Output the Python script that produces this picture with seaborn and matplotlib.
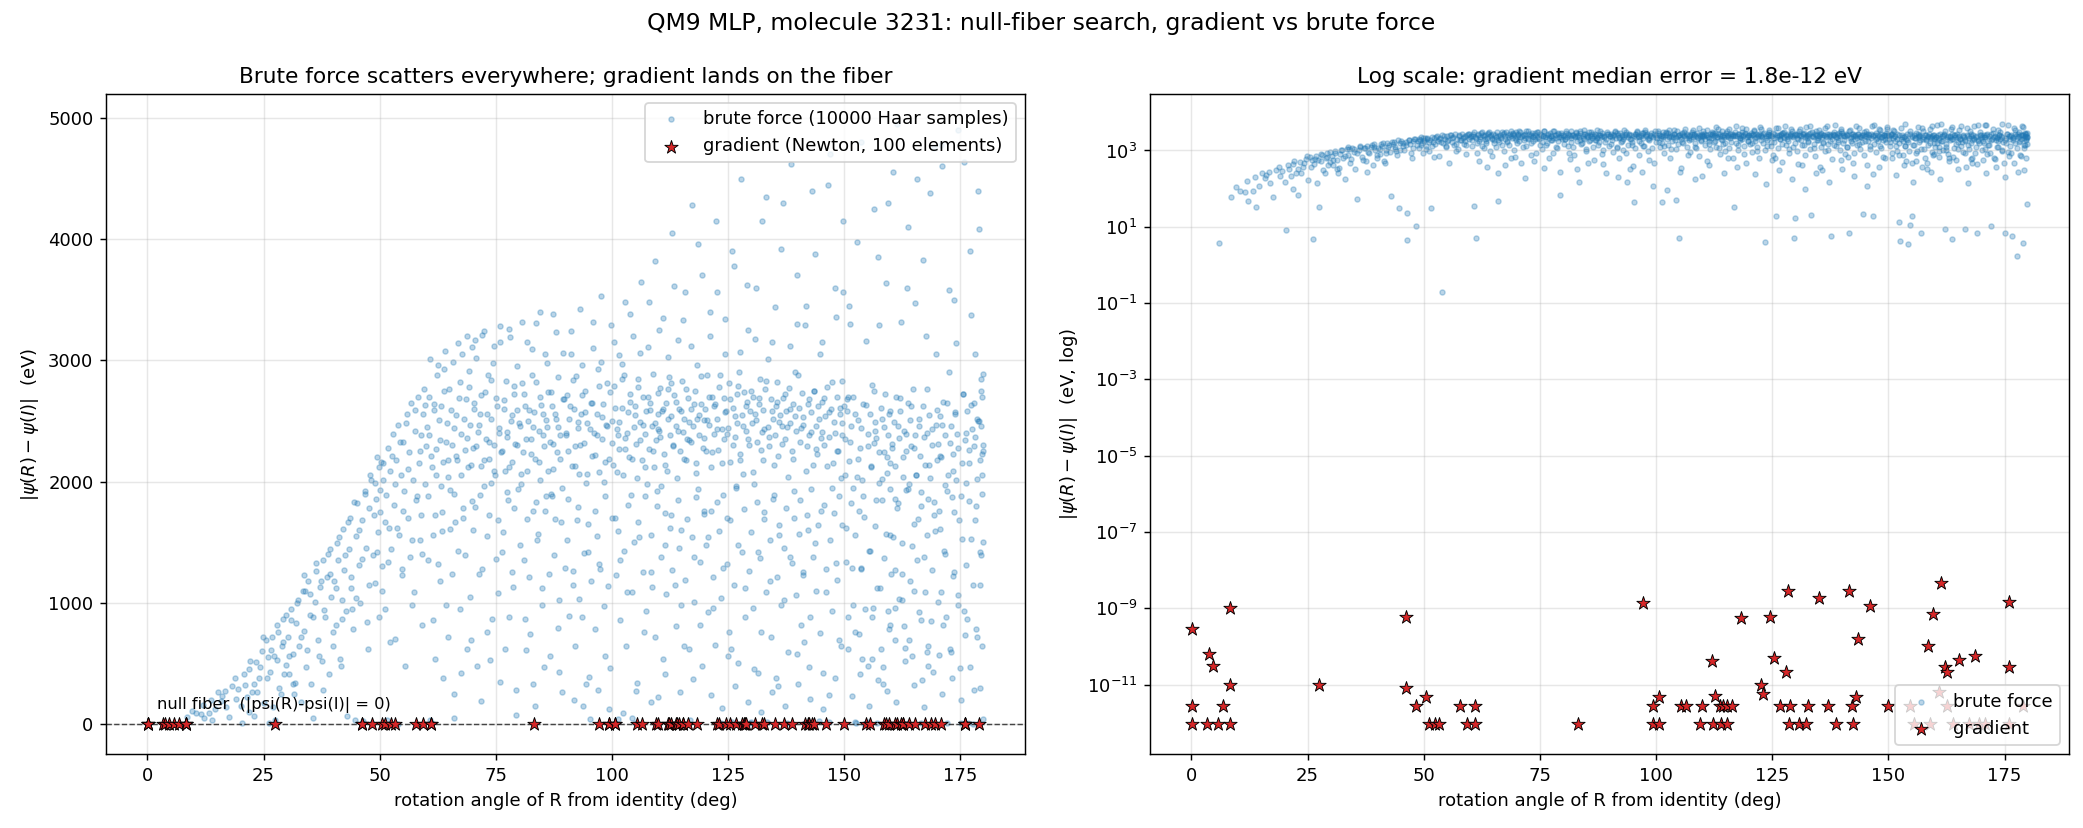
import numpy as np
import pandas as pd
import seaborn as sns
import matplotlib.pyplot as plt

# brute force: rotation angle (deg) and |psi(R)-psi(I)| (eV)
bf_angle = [
    5.9, 8.6, 9.6,
    10.5, 11.5, 11.9, 12.3, 13.3, 13.6, 13.9, 15.2, 16.1, 17.0, 18.2, 19.0,
    20.4, 21.1, 21.8, 22.5, 22.9, 23.4, 24.0, 24.6, 25.1, 25.5,
    26.2, 26.4, 26.9, 27.3, 27.5, 28.0, 28.4, 28.9, 29.3, 29.8,
    30.2, 30.5, 30.9, 31.3, 31.6, 32.0, 32.4, 32.7, 33.1, 33.5,
    33.8, 34.2, 34.6, 34.9, 35.3, 35.7, 36.0, 36.4, 36.8, 37.1,
    37.5, 37.9, 38.2, 38.6, 39.0, 39.3, 39.6, 39.9,
    40.2, 40.5, 40.8, 41.1, 41.5, 41.8, 42.1, 42.4, 42.7, 43.0,
    43.3, 43.6, 43.9, 44.2, 44.6, 44.9, 45.2, 45.5, 45.8, 46.1,
    46.4, 46.5, 46.8, 47.1, 47.4, 47.7, 48.0, 48.3, 48.6, 48.9,
    49.1, 49.3, 49.5, 49.7, 49.8, 49.9,
    50.1, 50.3, 50.6, 50.8, 51.1, 51.3, 51.5, 51.8, 52.0, 52.3,
    52.5, 52.8, 53.0, 53.3, 53.5, 53.9, 54.0, 54.2, 54.5, 54.7,
    55.0, 55.3, 55.5, 55.8, 56.0, 56.3, 56.6, 56.8, 57.1, 57.4,
    57.6, 57.9, 58.2, 58.4, 58.7, 59.0, 59.2, 59.5, 59.7, 59.9,
    60.1, 60.4, 60.6, 60.9, 61.1, 61.3, 61.5, 61.8, 62.1, 62.3,
    62.6, 62.9, 63.1, 63.4, 63.6, 63.9, 64.2, 64.4, 64.7, 64.9,
    65.2, 65.5, 65.7, 66.0, 66.1, 66.4, 66.7, 66.9, 67.2, 67.5,
    67.7, 68.0, 68.3, 68.5, 68.8, 69.0, 69.3, 69.5, 69.8, 69.9,
    70.1, 70.3, 70.6, 70.8, 71.1, 71.3, 71.6, 71.9, 72.1, 72.4,
    72.6, 72.9, 73.1, 73.4, 73.6, 73.9, 74.1, 74.4, 74.6, 74.9,
    75.1, 75.4, 75.6, 75.9, 76.2, 76.4, 76.7, 76.9, 77.2, 77.4,
    77.7, 77.9, 78.2, 78.4, 78.7, 78.9, 79.1, 79.3, 79.5, 79.8,
    80.1, 80.4, 80.6, 80.9, 81.1, 81.3, 81.6, 81.8, 82.0, 82.3,
    82.5, 82.8, 83.0, 83.2, 83.5, 83.7, 83.9, 84.2, 84.4, 84.6,
    84.9, 85.1, 85.3, 85.6, 85.8, 86.0, 86.3, 86.5, 86.7, 87.0,
    87.2, 87.4, 87.7, 87.9, 88.1, 88.4, 88.6, 88.8, 89.2, 89.6,
    90.1, 90.4, 90.6, 90.8, 91.1, 91.3, 91.5, 91.8, 92.0, 92.2,
    92.5, 92.7, 92.9, 93.2, 93.4, 93.6, 93.9, 94.1, 94.3, 94.6,
    94.8, 95.3, 95.5, 95.7, 96.0, 96.2, 96.4, 96.7, 96.9, 97.1,
    97.4, 97.6, 97.8, 98.1, 98.3, 98.5, 98.8, 99.0, 99.4, 99.7,
    100.1, 100.3, 100.5, 100.7, 101.0, 101.2, 101.4, 101.6, 101.8, 102.1,
    102.3, 102.5, 102.7, 102.9, 103.2, 103.4, 103.6, 103.8, 104.1, 104.3,
    104.5, 104.7, 104.9, 105.1, 105.3, 105.6, 105.8, 106.0, 106.2, 106.4,
    106.7, 106.9, 107.1, 107.3, 107.5, 107.8, 108.0, 108.2, 108.4, 108.6,
    108.9, 109.1, 109.3, 109.5, 109.7, 109.8, 109.9, 110.0, 101.3, 105.0,
    110.2, 110.4, 110.6, 110.8, 111.0, 111.2, 111.4, 111.6, 111.8, 112.0,
    112.2, 112.4, 112.6, 112.8, 113.0, 113.2, 113.4, 113.6, 113.8, 114.0,
    114.2, 114.4, 114.6, 114.8, 115.0, 115.2, 115.4, 115.6, 115.8, 116.0,
    116.2, 116.4, 116.6, 116.8, 117.0, 117.2, 117.4, 117.6, 117.8, 118.0,
    118.2, 118.4, 118.6, 118.8, 119.0, 119.2, 119.4, 119.6, 119.8, 119.9,
    120.1, 120.3, 120.5, 120.7, 120.9, 121.1, 121.3, 121.5, 121.7, 121.9,
    122.1, 122.3, 122.5, 122.7, 122.9, 123.1, 123.4, 123.6, 123.8, 124.0,
    124.2, 124.4, 124.6, 124.8, 125.0, 125.2, 125.4, 125.6, 125.8, 126.0,
    126.2, 126.4, 126.6, 126.8, 127.0, 127.2, 127.4, 127.6, 127.8, 128.0,
    128.2, 128.4, 128.6, 128.8, 129.0, 129.2, 129.4, 129.7, 129.8, 130.0,
    130.2, 130.4, 130.6, 130.8, 131.0, 131.2, 131.4, 131.6, 131.8, 132.0,
    132.2, 132.4, 132.6, 132.8, 133.0, 133.2, 133.4, 133.6, 133.8, 134.0,
    134.2, 134.4, 134.6, 134.8, 135.0, 135.2, 135.4, 135.6, 135.8, 136.0,
    136.2, 136.4, 136.6, 136.8, 137.0, 137.2, 137.4, 137.6, 137.8, 138.0,
    138.2, 138.4, 138.6, 138.8, 139.0, 139.2, 139.4, 139.6, 139.8, 139.9,
    140.2, 140.4, 140.6, 140.8, 141.0, 141.2, 141.5, 141.7, 141.9, 142.1,
    142.3, 142.5, 142.7, 142.9, 143.1, 143.3, 143.5, 143.7, 143.9, 144.1,
    144.3, 144.5, 144.7, 144.9, 145.1, 145.3, 145.5, 145.7, 145.9, 146.1,
    146.3, 146.6, 146.8, 147.0, 147.2, 147.4, 147.6, 147.8, 148.0, 148.2,
    148.4, 148.6, 148.8, 149.0, 149.2, 149.4, 149.5, 149.6, 149.8, 149.9,
    150.2, 150.4, 150.6, 150.8, 151.0, 151.2, 151.4, 151.6, 151.8, 152.2,
    152.6, 152.8, 153.0, 153.2, 153.4, 153.6, 153.8, 154.0, 154.3, 154.6,
    155.0, 155.2, 155.4, 155.6, 155.8, 156.0, 156.2, 156.4, 156.6, 156.8,
    157.1, 157.3, 157.5, 157.7, 157.9, 158.1, 158.3, 158.5, 158.7, 158.9,
    159.1, 159.3, 159.5, 159.6, 159.7, 159.8, 159.9, 150.5, 153.5, 156.5,
    160.2, 160.4, 160.6, 160.8, 161.0, 161.2, 161.4, 161.6, 161.8, 162.0,
    162.3, 162.5, 162.7, 162.9, 163.1, 163.3, 163.5, 163.8, 164.0, 164.2,
    164.4, 164.6, 164.8, 165.0, 165.2, 165.4, 165.6, 165.8, 166.0, 166.2,
    166.6, 166.8, 167.0, 167.2, 167.4, 167.6, 167.8, 168.0, 168.2, 168.4,
    168.6, 168.8, 169.0, 169.3, 169.5, 169.7, 169.9, 160.9, 163.7, 167.9,
    170.1, 170.3, 170.5, 170.7, 170.9, 171.1, 171.3, 171.5, 171.7, 172.1,
    172.3, 172.5, 172.7, 172.9, 173.1, 173.3, 173.5, 173.7, 173.9, 174.1,
    174.3, 174.5, 174.7, 175.1, 175.3, 175.5, 175.7, 175.9, 176.1, 176.3,
    176.6, 176.8, 177.0, 177.2, 177.4, 177.6, 177.8, 178.0, 178.2, 178.4,
    178.6, 178.8, 179.0, 179.2, 179.4, 179.5, 179.6, 179.7, 179.8, 179.9,
]
bf_err = [
    3.8, 60, 110,
    89, 83, 158, 47, 87, 200, 33, 260, 230, 140, 310, 210,
    8, 320, 450, 260, 69, 510, 380, 600, 170, 690,
    4.8, 430, 720, 560, 33, 820, 300, 640, 870, 490,
    720, 410, 950, 580, 250, 830, 1020, 640, 180, 1100,
    770, 470, 1180, 900, 330, 52, 1010, 1260, 690, 1130,
    520, 1350, 880, 1210, 410, 1440, 1050, 760,
    1180, 820, 1490, 1350, 540, 1020, 1610, 1270, 930, 63,
    1440, 1700, 1120, 780, 32, 1550, 1820, 1310, 1000, 1680,
    23, 4.6, 1920, 1450, 620, 1780, 2050, 10.7, 1390, 1990,
    1160, 1860, 2200, 1580, 880, 2120,
    1750, 2160, 1300, 2010, 950, 1890, 31, 2280, 1620, 2090,
    1440, 2390, 1810, 700, 2180, 0.19, 2470, 1560, 2050, 1230,
    2330, 1920, 480, 2560, 1700, 2240, 1380, 2650, 2010, 1090,
    2420, 1850, 2700, 2150, 1520, 2380, 820, 2760, 1980, 2290,
    2450, 1880, 2700, 36, 2210, 5.1, 1560, 2590, 2050, 2880,
    1320, 2340, 2620, 1750, 2160, 2930, 980, 2480, 2040, 2760,
    1610, 2300, 2990, 1900, 47, 2550, 2180, 1430, 2820, 2390,
    3050, 1700, 2260, 2680, 620, 2120, 2910, 2470, 1840, 3110,
    2280, 2650, 1790, 3020, 2410, 1240, 2560, 2130, 3210, 1960,
    2740, 2350, 1550, 2880, 2190, 2520, 870, 2980, 2300, 2050,
    2690, 1680, 2440, 3150, 2240, 1420, 2600, 2090, 2830, 2370,
    1850, 3260, 2500, 2160, 1130, 2720, 2310, 70, 2590, 1940,
    2460, 1980, 2810, 2240, 1350, 2620, 3150, 2090, 2500, 740,
    2350, 2880, 1760, 2570, 2190, 3310, 1520, 2420, 2700, 2010,
    980, 2560, 2290, 3050, 1880, 2450, 2740, 1240, 2330, 2620,
    2100, 3380, 1690, 2520, 2240, 2860, 430, 2380, 1950, 2680,
    2380, 2710, 1860, 2520, 3240, 2130, 1150, 2600, 2290, 2870,
    1680, 2440, 2060, 3420, 2560, 880, 2320, 2750, 1990, 2480,
    1420, 44, 2650, 2210, 3100, 2400, 1760, 2560, 2930, 2080,
    1280, 3530, 2350, 2640, 2000, 560, 2470, 2810, 2190, 3290,
    2500, 2140, 2790, 1700, 2430, 44, 3040, 2270, 1350, 2610,
    2050, 2880, 3480, 2360, 1090, 2570, 2200, 2720, 1890, 50,
    3200, 2450, 2620, 2310, 2030, 2850, 1540, 2490, 3650, 2180,
    2700, 760, 2390, 2580, 1980, 3110, 2270, 2650, 1250, 2460,
    2890, 2120, 3820, 2340, 1800, 2560, 220, 2430, 2380, 5,
    2420, 2770, 1960, 2580, 3350, 2230, 1480, 2650, 2090, 2760,
    2860, 2380, 1720, 2540, 4050, 2290, 2710, 1150, 2460, 2030,
    3170, 2600, 2250, 1600, 2830, 2410, 640, 2520, 3560, 2180,
    2350, 2690, 2340, 34, 2600, 4280, 2460, 1380, 2750, 2150,
    2520, 2960, 1940, 2380, 820, 2640, 3700, 2280, 2510, 1760,
    2600, 2250, 2880, 1540, 2470, 3400, 2120, 2700, 960, 2390,
    2640, 4150, 1830, 2520, 2260, 2780, 4, 2430, 1290, 2690,
    2350, 3050, 2580, 1700, 2440, 2810, 2160, 620, 19, 2610,
    3780, 2370, 1950, 2720, 2480, 1480, 2900, 2230, 4500, 2550,
    2060, 2740, 1120, 2420, 2660, 3250, 2300, 5.2, 2580, 17,
    2480, 2700, 1980, 2560, 3600, 2330, 1420, 2640, 2850, 760,
    2410, 2180, 2590, 1750, 2760, 4350, 20, 2450, 2290, 1180,
    2680, 3150, 2520, 1890, 2380, 2620, 380, 2820, 2210, 1560,
    2550, 3920, 2460, 2690, 1020, 2350, 2580, 5.9, 2040, 2770,
    1380, 2480, 4620, 2250, 2640, 1700, 2900, 2420, 580, 3300,
    2610, 1850, 2440, 2730, 1230, 2530, 6.7, 3450, 2290, 1600,
    2680, 2380, 880, 2570, 4400, 2140, 2750, 1490, 2460, 2230,
    2620, 22, 3050, 1760, 2410, 2660, 420, 2300, 2540, 1090,
    2780, 19, 2370, 4700, 2600, 1950, 2150, 2490, 3600, 1330,
    2700, 2250, 690, 2560, 2030, 2830, 1640, 2380, 4150, 2620,
    2350, 1620, 2580, 880, 2170, 3300, 2460, 1290, 2700, 13,
    4.3, 2040, 2510, 1760, 2280, 4800, 540, 2640, 3.6, 11,
    19, 2390, 1430, 2560, 2130, 2800, 960, 2320, 2490, 1850,
    7, 3850, 2240, 1120, 2610, 2020, 330, 2450, 2720, 1570,
    2200, 4300, 2380, 780, 2560, 1940, 2150, 2680, 1280, 2420,
    2280, 1540, 2490, 960, 2130, 2700, 4950, 1820, 2360, 2580,
    9, 1240, 2040, 2420, 630, 2250, 3600, 4.8, 1980, 2510,
    2290, 1470, 2760, 1100, 2380, 2050, 4500, 1690, 2460, 2210,
    8.7, 360, 2620, 1380, 2140, 3200, 2400, 1860, 2550, 2030,
    850, 2300, 6.8, 4750, 1590, 2470, 2180, 1270, 2650, 480,
    2310, 1760, 2540, 1090, 2200, 4600, 2660, 1430, 2380, 10.4,
    2050, 2900, 620, 2460, 1870, 2230, 3500, 1250, 2570, 2010,
    2390, 4900, 1680, 6.8, 2150, 2720, 930, 2340, 1990, 2580,
    5.8, 2260, 3900, 1530, 2430, 1.7, 2650, 280, 2370, 1800,
    2520, 4400, 3.7, 2180, 2460, 1390, 2700, 2050, 40, 2300,
]

# more brute force samples from the lower / upper parts of the cloud
bf_more_angle = [
    14.6, 15.8, 16.7, 17.5, 18.8, 19.6, 20.1, 20.8, 21.5, 22.2,
    23.0, 23.7, 24.3, 24.9, 25.8, 26.6, 27.0, 27.8, 28.2, 28.7,
    29.1, 29.5, 29.9, 21.9, 26.0,
    30.4, 31.0, 31.8, 32.2, 33.0, 33.7, 34.4, 35.0, 35.6, 36.2,
    36.9, 37.3, 38.0, 38.8, 39.4, 40.0, 40.7, 41.3, 42.0, 42.6,
    43.1, 43.8, 44.4, 45.0, 45.6, 46.2, 46.9, 47.6, 48.2, 48.8,
    49.4, 50.0, 50.7, 51.2, 51.9, 52.6, 53.2, 53.7, 54.4, 55.1,
    55.7, 56.2, 56.9, 57.5, 58.0, 58.6, 59.1, 59.8, 31.4, 34.0,
    37.7, 41.6, 44.0, 47.3, 50.4, 52.2, 54.9, 57.0, 58.9, 59.4,
    60.3, 60.8, 61.4, 62.0, 62.5, 63.0, 63.5, 64.0, 64.6, 65.1,
    65.6, 66.2, 66.8, 67.3, 67.9, 68.4, 68.9, 69.4, 70.0, 70.5,
    71.0, 71.5, 72.0, 72.5, 73.0, 73.5, 74.0, 74.5, 75.0, 75.5,
    76.0, 76.5, 77.0, 77.5, 78.0, 78.5, 79.0, 79.6, 80.2, 80.7,
    81.2, 81.7, 82.2, 82.7, 83.1, 83.6, 84.1, 84.5, 85.0, 85.5,
    86.1, 86.6, 87.1, 87.5, 88.0, 88.5, 89.1, 89.5, 89.9, 61.9,
    63.7, 65.9, 67.6, 69.6, 71.8, 73.8, 75.8, 77.8, 79.4, 81.5,
    83.4, 85.4, 86.9, 88.3, 89.3,
    90.3, 90.7, 91.2, 91.6, 92.1, 92.6, 93.0, 93.5, 94.0, 94.4,
    94.9, 95.4, 95.9, 96.3, 96.8, 97.2, 97.7, 98.2, 98.6, 99.1,
    99.5, 99.9, 100.4, 100.8, 101.3, 101.7, 102.2, 102.6, 103.1, 103.5,
    103.9, 104.4, 104.8, 105.2, 105.7, 106.1, 106.6, 107.0, 107.4, 107.9,
    108.3, 108.7, 109.2, 109.6, 110.1, 110.5, 110.9, 111.3, 111.7, 112.1,
    112.5, 112.9, 113.3, 113.7, 114.1, 114.5, 114.9, 115.3, 115.7, 116.1,
    116.5, 116.9, 117.3, 117.7, 118.1, 118.5, 118.9, 119.3, 119.7, 91.9,
    93.8, 95.1, 97.0, 99.3, 102.4, 105.4, 108.5, 111.5, 114.7, 117.5,
    120.2, 120.6, 121.0, 121.4, 121.8, 122.2, 122.6, 123.0, 123.5, 123.9,
    124.3, 124.7, 125.1, 125.5, 125.9, 126.3, 126.7, 127.1, 127.5, 127.9,
    128.3, 128.7, 129.1, 129.5, 129.9, 130.3, 130.7, 131.1, 131.5, 131.9,
    132.3, 132.7, 133.1, 133.5, 133.9, 134.3, 134.7, 135.1, 135.5, 135.9,
    136.3, 136.7, 137.1, 137.5, 137.9, 138.3, 138.7, 139.1, 139.5, 139.9,
    140.3, 140.7, 141.1, 141.6, 142.0, 142.4, 142.8, 143.2, 143.6, 144.0,
    144.4, 144.8, 145.2, 145.6, 146.0, 146.4, 146.9, 147.3, 147.7, 148.1,
    148.5, 148.9, 149.3, 149.7, 121.2, 123.7, 126.5, 129.3, 132.0, 134.5,
    137.3, 140.0, 142.6, 145.4, 147.9, 124.9, 130.5, 135.7, 141.3, 146.7,
    150.3, 150.7, 151.1, 151.5, 151.9, 152.3, 152.7, 153.1, 153.5, 153.9,
    154.2, 154.7, 155.1, 155.5, 155.9, 156.3, 156.7, 157.1, 157.5, 157.9,
    158.2, 158.6, 159.0, 159.4, 159.8, 160.1, 160.5, 160.9, 161.3, 161.7,
    162.1, 162.5, 162.9, 163.3, 163.7, 164.1, 164.5, 164.9, 165.3, 165.7,
    166.1, 166.5, 166.9, 167.3, 167.7, 168.1, 168.5, 168.9, 169.3, 169.7,
    170.1, 170.5, 170.9, 171.3, 171.7, 172.1, 172.5, 172.9, 173.3, 173.7,
    174.1, 174.5, 174.9, 175.3, 175.7, 176.1, 176.5, 176.9, 177.3, 177.7,
    178.1, 178.5, 178.9, 179.3, 179.7, 151.6, 153.3, 155.3, 157.2, 159.2,
    161.1, 163.1, 165.1, 167.1, 169.1, 171.1, 173.1, 175.1, 177.1, 179.1,
    152.4, 156.0, 159.9, 163.9, 167.8, 171.9, 175.9, 179.6, 154.4, 158.4,
    162.4, 166.4, 170.4, 174.4, 178.4, 179.9, 179.8, 179.5, 179.2, 178.7,
]
bf_more_err = [
    120, 190, 270, 60, 380, 290, 150, 410, 220, 520,
    330, 260, 470, 720, 380, 610, 140, 530, 760, 250,
    680, 410, 900, 95, 550,
    560, 860, 340, 1000, 720, 1230, 610, 1070, 880, 1330,
    560, 1180, 940, 1400, 1240, 640, 1120, 1540, 870, 1390,
    1670, 1210, 1830, 1040, 1600, 1360, 1900, 1150, 2010, 1720,
    1420, 1930, 2150, 1670, 1340, 2210, 1980, 1620, 2330, 1760,
    2480, 2100, 1520, 2590, 1880, 2250, 1400, 2630, 330, 1100,
    280, 480, 950, 840, 1100, 680, 1280, 980, 1720, 2560,
    1350, 3010, 860, 1720, 2960, 1180, 1590, 3080, 720, 1930,
    1240, 1670, 3140, 950, 1780, 1390, 3200, 1050, 1600, 3170,
    480, 1890, 1280, 3240, 760, 1720, 1990, 3120, 1360, 1080,
    3280, 1580, 620, 1910, 3190, 1250, 1780, 2950, 1480, 3320,
    870, 1690, 1210, 3090, 330, 1830, 1570, 3400, 1120, 1760,
    2980, 560, 1880, 1390, 3230, 1020, 1670, 3060, 1290, 540,
    380, 250, 420, 690, 190, 530, 350, 880, 280, 610,
    150, 470, 1900, 790, 260,
    1520, 890, 3050, 1260, 640, 1790, 1030, 2960, 1410, 330,
    1650, 1180, 3320, 780, 1550, 1320, 2990, 970, 1880, 1140,
    460, 1700, 3150, 1230, 1590, 860, 2970, 1430, 640, 1810,
    3380, 1090, 1500, 270, 1670, 3060, 1250, 1880, 930, 3480,
    1560, 1130, 720, 1920, 3250, 1380, 540, 1740, 1070, 3030,
    1620, 1270, 3610, 810, 1850, 1450, 980, 3330, 1190, 1690,
    620, 3120, 1540, 1010, 1870, 3960, 1340, 480, 1730, 200,
    150, 390, 280, 120, 90, 340, 180, 410, 260, 370,
    1480, 920, 3200, 1760, 1210, 650, 3560, 1590, 1040, 1890,
    3340, 1320, 760, 1680, 3900, 1150, 1960, 500, 3070, 1420,
    1770, 880, 3620, 1260, 1580, 960, 3180, 1830, 420, 1370,
    4150, 1690, 1090, 3010, 1520, 720, 1860, 3440, 1210, 1640,
    980, 4300, 1450, 1780, 590, 3120, 1330, 1920, 1060, 3700,
    1570, 820, 1250, 3290, 1720, 470, 1940, 1380, 3880, 1100,
    1640, 750, 3150, 1810, 1280, 4450, 1520, 930, 1740, 3360,
    1190, 1880, 640, 3560, 240, 130, 310, 180, 95, 260,
    150, 330, 210, 120, 380, 560, 450, 310, 680, 240,
    1340, 620, 3450, 1820, 980, 1560, 3980, 740, 1290, 2010,
    1710, 3160, 480, 1430, 880, 4250, 1630, 1120, 3290, 620,
    1850, 1370, 3640, 930, 1560, 1240, 4550, 690, 1780, 1030,
    3320, 1490, 810, 1930, 4100, 1180, 560, 1650, 3470, 1350,
    920, 1800, 3830, 1090, 1560, 640, 4380, 1270, 1720, 3050,
    1010, 1610, 4780, 820, 1400, 1920, 3580, 590, 1220, 1750,
    3140, 1060, 460, 1530, 4640, 1310, 870, 1840, 3370, 1150,
    1680, 720, 4080, 1420, 1900, 230, 410, 150, 360, 270,
    180, 520, 320, 140, 430, 250, 380, 200, 470, 300,
    760, 540, 820, 690, 590, 880, 730, 640, 950, 470,
    1020, 860, 570, 980, 780, 2250, 1500, 2850, 1150, 2500,
]

# samples from the dense core band of the cloud
bf_core_angle = [
    60.7, 61.2, 61.7, 62.2, 62.8, 63.3, 63.8, 64.3, 64.8, 65.4,
    65.9, 66.5, 67.0, 67.6, 68.1, 68.7, 69.2, 69.7, 70.2, 70.8,
    71.4, 71.9, 72.4, 73.0, 73.5, 74.0, 74.6, 75.2, 75.7, 76.3,
    76.8, 77.3, 77.9, 78.4, 79.0, 79.5, 80.0, 80.5, 81.0, 81.5,
    82.1, 82.6, 83.1, 83.6, 84.2, 84.7, 85.2, 85.7, 86.2, 86.8,
    87.3, 87.8, 88.3, 88.9, 89.4, 90.0, 90.5, 91.0, 91.5, 92.0,
    92.6, 93.1, 93.6, 94.2, 94.7, 95.2, 95.8, 96.3, 96.8, 97.3,
    97.9, 98.4, 98.9, 99.5, 100.0, 100.6, 101.1, 101.6, 102.2, 102.8,
    103.3, 103.9, 104.4, 105.0, 105.5, 106.1, 106.6, 107.2, 107.7, 108.2,
    108.8, 109.3, 109.9, 110.4, 111.0, 111.5, 112.1, 112.6, 113.2, 113.7,
    114.3, 114.8, 115.4, 115.9, 116.5, 117.0, 117.6, 118.1, 118.7, 119.2,
    119.8, 120.4, 120.9, 121.5, 122.0, 122.6, 123.2, 123.7, 124.3, 124.8,
    125.4, 126.0, 126.5, 127.1, 127.6, 128.2, 128.8, 129.3, 129.9, 130.4,
    131.0, 131.6, 132.1, 132.7, 133.2, 133.8, 134.4, 134.9, 135.5, 136.0,
    136.6, 137.2, 137.7, 138.3, 138.9, 139.4, 140.0, 140.5, 141.1, 141.7,
    142.2, 142.8, 143.4, 143.9, 144.5, 145.0, 145.6, 146.2, 146.7, 147.3,
    147.9, 148.4, 149.0, 149.6, 150.1, 150.7, 151.3, 151.8, 152.4, 153.0,
    153.5, 154.1, 154.7, 155.2, 155.8, 156.4, 156.9, 157.5, 158.1, 158.6,
    159.2, 159.8, 160.3, 160.9, 161.5, 162.0, 162.6, 163.2, 163.7, 164.3,
    164.9, 165.4, 166.0, 166.6, 167.1, 167.7, 168.3, 168.8, 169.4, 170.0,
    170.5, 171.1, 171.7, 172.2, 172.8, 173.4, 173.9, 174.5, 175.1, 175.6,
    176.2, 176.8, 177.3, 177.9, 178.5, 179.0, 179.4, 179.7, 179.9, 178.2,
]
bf_core_err = [
    2380, 2120, 2640, 2270, 2510, 1960, 2750, 2330, 2180, 2590,
    2440, 2210, 2690, 2050, 2520, 2360, 2780, 2140, 2600, 2290,
    2470, 2710, 2180, 2560, 2330, 2840, 2090, 2620, 2400, 2250,
    2670, 2410, 2120, 2550, 2790, 2300, 2480, 2060, 2720, 2350,
    2590, 2230, 2450, 2820, 2160, 2630, 2380, 2510, 2090, 2740,
    2310, 2560, 2450, 2190, 2680, 2400, 2250, 2620, 2840, 2130,
    2490, 2300, 2710, 2570, 2060, 2430, 2650, 2220, 2380, 2790,
    2530, 2160, 2460, 2740, 2320, 2610, 2080, 2490, 2850, 2270,
    2400, 2660, 2190, 2550, 2780, 2340, 2470, 2120, 2700, 2590,
    2250, 2480, 2730, 2370, 2600, 2140, 2520, 2810, 2300, 2660,
    2420, 2580, 2190, 2760, 2490, 2330, 2640, 2070, 2550, 2870,
    2360, 2510, 2700, 2240, 2620, 2430, 2880, 2150, 2570, 2390,
    2680, 2300, 2540, 2790, 2180, 2460, 2620, 2350, 2750, 2080,
    2510, 2690, 2260, 2430, 2830, 2370, 2580, 2140, 2660, 2490,
    2310, 2720, 2450, 2600, 2190, 2540, 2880, 2330, 2470, 2090,
    2640, 2410, 2750, 2270, 2520, 2360, 2690, 2130, 2570, 2820,
    2400, 2250, 2610, 2480, 2050, 2700, 2330, 1950, 2560, 2190,
    2440, 1880, 2630, 2290, 2120, 2750, 2360, 1990, 2520, 2240,
    2070, 2580, 2310, 1860, 2460, 2690, 2200, 2390, 1940, 2620,
    2280, 2050, 2520, 1910, 2370, 2760, 2140, 2430, 1830, 2590,
    2210, 2470, 1970, 2650, 2320, 2090, 2560, 2280, 1880, 2720,
    2400, 2150, 2630, 2290, 2020, 2500, 2750, 2230, 2890, 3050,
]

# gradient (Newton) end points: angle (deg) and residual error (eV)
gd_angle = [
    0.1, 0.1, 0.1, 3.3, 3.9, 4.6, 5.7, 6.8, 8.3, 8.3, 8.3, 27.5,
    46.1, 46.3, 48.3, 50.5, 51.1, 52.5, 53.3, 57.9, 59.3, 61.1, 61.1, 83.2,
    97.3, 99.3, 99.4, 100.6, 100.7, 105.3, 106.4, 109.5, 110.0, 112.0,
    112.3, 112.8, 113.7, 113.9, 114.5, 115.2, 115.2, 116.3, 118.2, 122.7,
    123.1, 124.6, 125.3, 126.6, 127.9, 128.4, 128.6, 128.8, 130.8, 132.2,
    132.7, 135.1, 137.0, 138.8, 141.5, 142.2, 142.4, 143.1, 143.4, 146.1,
    149.9, 154.6, 155.5, 158.6, 158.9, 159.6, 161.0, 161.4, 162.1, 162.6,
    162.7, 164.0, 165.3, 167.4, 168.7, 169.6, 170.8, 176.0, 176.0, 176.0, 178.9,
]
gd_err = [
    2.9e-10, 2.8e-12, 9.3e-13, 9.3e-13, 6.3e-11, 3.0e-11, 9.3e-13, 2.8e-12,
    1.05e-9, 1.0e-11, 9.3e-13, 1.0e-11,
    6.0e-10, 8.0e-12, 2.8e-12, 4.8e-12, 9.3e-13, 9.3e-13, 9.3e-13, 2.8e-12,
    9.3e-13, 2.8e-12, 9.3e-13, 9.3e-13,
    1.35e-9, 2.8e-12, 9.3e-13, 4.8e-12, 9.3e-13, 2.8e-12, 2.8e-12, 9.3e-13,
    2.8e-12, 4.1e-11,
    9.3e-13, 4.9e-12, 2.8e-12, 9.3e-13, 2.8e-12, 2.8e-12, 9.3e-13, 2.8e-12,
    5.5e-10, 1.0e-11,
    5.8e-12, 6.0e-10, 5.0e-11, 2.8e-12, 2.1e-11, 2.9e-9, 9.3e-13, 2.8e-12,
    9.3e-13, 9.3e-13,
    2.8e-12, 1.9e-9, 2.8e-12, 9.3e-13, 2.9e-9, 2.8e-12, 9.3e-13, 4.8e-12,
    1.6e-10, 1.15e-9,
    2.8e-12, 2.8e-12, 9.3e-13, 1.05e-10, 9.3e-13, 7.0e-10, 6.5e-12, 4.6e-9,
    2.9e-11, 2.1e-11,
    2.8e-12, 9.3e-13, 4.4e-11, 9.3e-13, 5.6e-11, 9.3e-13, 9.3e-13, 1.45e-9,
    2.9e-11, 9.3e-13, 2.8e-12,
]

bf = pd.DataFrame({'angle': bf_angle + bf_more_angle + bf_core_angle,
                   'err': bf_err + bf_more_err + bf_core_err})
gd = pd.DataFrame({'angle': gd_angle, 'err': gd_err})
gd['zero'] = 0.0

fig, (ax1, ax2) = plt.subplots(1, 2, figsize=(2083/130, 828/130), dpi=130)
plt.subplots_adjust(left=0.0509, right=0.9933, bottom=0.0894, top=0.8865, wspace=0.136)

# left: linear scale
sns.scatterplot(data=bf, x='angle', y='err', ax=ax1, s=8, alpha=0.3, color='tab:blue',
                edgecolor='tab:blue', linewidth=0.8,
                label='brute force (10000 Haar samples)')
sns.scatterplot(data=gd, x='angle', y='zero', ax=ax1, marker='*', s=60, color='tab:red',
                edgecolor='black', linewidth=0.5, zorder=3,
                label='gradient (Newton, 100 elements)')
ax1.axhline(0, color='k', ls='--', lw=0.8, alpha=0.7, zorder=2)
ax1.text(2, 90, 'null fiber  (|psi(R)-psi(I)| = 0)', fontsize=9, va='bottom')
ax1.set_xlabel('rotation angle of R from identity (deg)')
ax1.set_ylabel(r'$|\psi(R) - \psi(I)|$  (eV)')
ax1.set_title('Brute force scatters everywhere; gradient lands on the fiber')
ax1.grid(alpha=0.3)
ax1.legend(loc='upper right')

# right: log scale
sns.scatterplot(data=bf, x='angle', y='err', ax=ax2, s=8, alpha=0.3, color='tab:blue',
                edgecolor='tab:blue', linewidth=0.8, label='brute force')
sns.scatterplot(data=gd, x='angle', y='err', ax=ax2, marker='*', s=60, color='tab:red',
                edgecolor='black', linewidth=0.5, zorder=3, label='gradient')
ax2.set_yscale('log')
ax2.set_xlabel('rotation angle of R from identity (deg)')
ax2.set_ylabel(r'$|\psi(R) - \psi(I)|$  (eV, log)')
ax2.set_title('Log scale: gradient median error = 1.8e-12 eV')
ax2.grid(alpha=0.3)
ax2.legend(loc='lower right')

fig.suptitle('QM9 MLP, molecule 3231: null-fiber search, gradient vs brute force',
             fontsize=13, y=0.985)

plt.savefig('out.png', dpi=130)
